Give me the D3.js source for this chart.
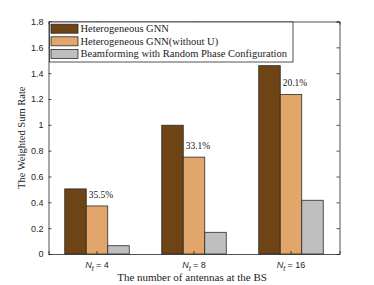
<!DOCTYPE html>
<html><head><meta charset="utf-8">
<script src="https://cdn.jsdelivr.net/npm/d3@7"></script>
<style>body{margin:0;background:#fff}svg{display:block}</style>
</head><body><svg id="c" width="374" height="285"></svg>
<script>
const categories = ["4", "8", "16"];
const seriesNames = ["Heterogeneous GNN", "Heterogeneous GNN(without U)", "Beamforming with Random Phase Configuration"];
const gnn = [0.504, 0.997, 1.458];
const gnnNoU = [0.372, 0.750, 1.235];
const randomPhase = [0.064, 0.168, 0.416];
const gainLabels = ["35.5%", "33.1%", "20.1%"];
const yTicks = [0, 0.2, 0.4, 0.6, 0.8, 1, 1.2, 1.4, 1.6, 1.8];
const colors = ["#6E4414", "#E3A66A", "#BFBFBF"];

const svg = d3.select("#c");
const L = 48.5, R = 339.5, T = 21.5, B = 254;
const series = [gnn, gnnNoU, randomPhase];
const x = d3.scaleBand().domain(categories).range([L, R]).paddingInner(0).paddingOuter(0);
const y = d3.scaleLinear().domain([0, 1.8]).range([B, T]);
const bw = x.bandwidth();
const groupW = bw * 0.665;
const xs = d3.scaleBand().domain([0,1,2]).range([0, groupW]);
const axisCol = "#262626";
const serif = "'Liberation Serif', 'Times New Roman', serif";
const sans = "'Liberation Sans', Arial, sans-serif";

// bars
series.forEach((vals, si) => {
  svg.append("g").selectAll("rect").data(vals).join("rect")
    .attr("x", (d,i) => x(categories[i]) + (bw - groupW)/2 + xs(si))
    .attr("y", d => y(d))
    .attr("width", xs.bandwidth())
    .attr("height", d => B - y(d))
    .attr("fill", colors[si])
    .attr("stroke", "#2a2a2a").attr("stroke-width", 0.8);
});

// gain labels
svg.append("g").selectAll("text").data(gainLabels).join("text")
  .attr("x", (d,i) => x(categories[i]) + (bw - groupW)/2 + xs(1) + 2.5)
  .attr("y", (d,i) => y(gnnNoU[i]) - 8)
  .attr("font-family", serif).attr("font-size", 9.5).attr("fill", "#222")
  .text(d => d);

// axes box
const yAxisL = d3.axisLeft(y).tickValues(yTicks).tickSize(-3).tickPadding(5).tickFormat(d3.format("~g"));
const gL = svg.append("g").attr("transform", `translate(${L},0)`).call(yAxisL);
gL.selectAll("text").attr("font-family", sans).attr("font-size", 9).attr("fill", axisCol);
const yAxisR = d3.axisRight(y).tickValues(yTicks).tickSize(-3).tickFormat("");
svg.append("g").attr("transform", `translate(${R},0)`).call(yAxisR);
const xAxisB = d3.axisBottom(x).tickSize(-3).tickFormat("");
svg.append("g").attr("transform", `translate(0,${B})`).call(xAxisB);
const xAxisT = d3.axisTop(x).tickSize(-3).tickFormat("");
svg.append("g").attr("transform", `translate(0,${T})`).call(xAxisT);
svg.selectAll(".domain").attr("stroke", axisCol).attr("stroke-width", 0.8);
svg.selectAll(".tick line").attr("stroke", axisCol).attr("stroke-width", 0.8);

// x tick labels
const xl = svg.append("g").selectAll("text").data(categories).join("text")
  .attr("x", d => x(d) + bw/2).attr("y", 268)
  .attr("text-anchor", "middle").attr("font-family", sans).attr("font-size", 9).attr("fill", axisCol);
xl.append("tspan").attr("font-style", "italic").text("N");
xl.append("tspan").attr("font-style", "italic").attr("font-size", 7).attr("dy", 2.5).text("t");
xl.append("tspan").attr("dy", -2.5).text(d => " = " + d);

// axis titles
svg.append("text").attr("x", (L+R)/2 - 2).attr("y", 281).attr("text-anchor", "middle")
  .attr("font-family", serif).attr("font-size", 11).attr("fill", "#222")
  .text("The number of antennas at the BS");
svg.append("text").attr("transform", `translate(25,${(T+B)/2}) rotate(-90)`).attr("text-anchor", "middle")
  .attr("font-family", serif).attr("font-size", 10.5).attr("fill", "#222")
  .text("The Weighted Sum Rate");

// legend
const lg = svg.append("g");
lg.append("rect").attr("x", 49.5).attr("y", 22).attr("width", 243.5).attr("height", 40)
  .attr("fill", "#fff").attr("stroke", "#262626").attr("stroke-width", 0.8);
seriesNames.forEach((n, i) => {
  const cy = 28.7 + i * 12.6;
  lg.append("rect").attr("x", 51).attr("y", cy - 4.5).attr("width", 27).attr("height", 9)
    .attr("fill", colors[i]).attr("stroke", "#2a2a2a").attr("stroke-width", 0.8);
  lg.append("text").attr("x", 80.5).attr("y", cy + 3.5)
    .attr("font-family", serif).attr("font-size", 10.5).attr("fill", "#222").text(n);
});
</script></body></html>
